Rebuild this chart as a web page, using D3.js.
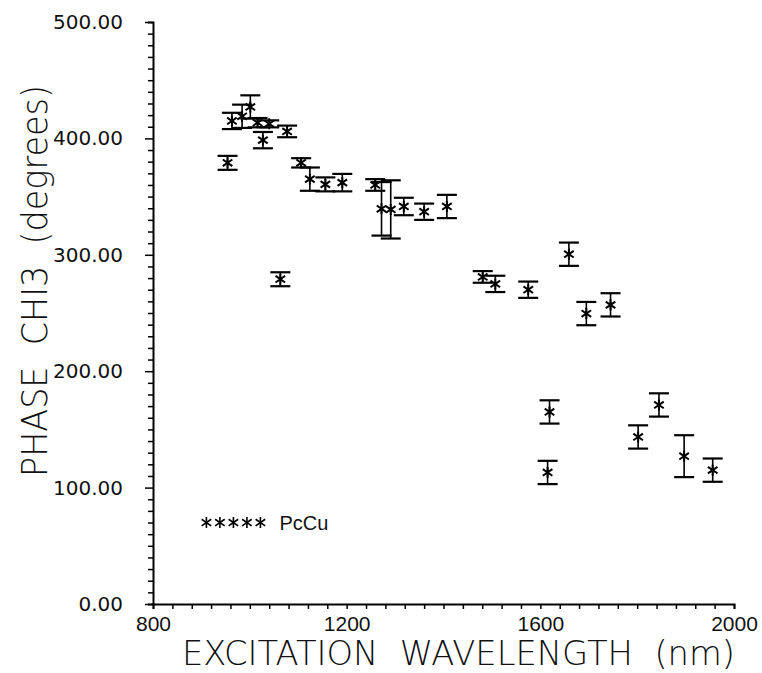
<!DOCTYPE html>
<html>
<head>
<meta charset="utf-8">
<script src="https://cdn.jsdelivr.net/npm/d3@7"></script>
<style>
  body { margin: 0; background: #fff; }
  svg { display: block; }
</style>
</head>
<body>
<div id="graphique"></div>
<script>
// longueur d'onde d'excitation (nm)
const wavelength = [954, 963, 984, 1001, 1016, 1027, 1040, 1077, 1063, 1106,
                    1124, 1156, 1191, 1259, 1272, 1291, 1318, 1360, 1407, 1481,
                    1507, 1575, 1659, 1695, 1745, 1845, 1802, 1897, 1956, 1619, 1615];
// phase chi3 (degres)
const phase = [379, 415, 419, 427, 413.5, 398.5, 412.5, 406, 279, 379,
               365, 360.5, 362, 360, 339.5, 339, 341.5, 337, 341.5, 281,
               275, 270, 300.5, 249.5, 257, 171, 143.5, 127, 115, 165, 113];
// barres d'erreur (+/-)
const erreur = [6, 7, 10, 10, 4, 7, 3, 5, 6, 4,
                10, 6, 7.5, 5, 23, 25, 7.5, 7, 10, 5,
                7, 7, 10, 10, 10, 10, 10, 18, 10, 10, 10];

const xTicks = [800, 1200, 1600, 2000];
const yTicks = [0, 100, 200, 300, 400, 500];
const legendLabel = "PcCu";

function Affichage() {
    const width = 762, height = 673;
    const margin = { top: 22, right: 28, bottom: 69, left: 153 };
    const innerWidth = width - margin.left - margin.right;
    const innerHeight = height - margin.top - margin.bottom;

    const root = d3.select("#graphique").append("svg")
        .attr("width", width)
        .attr("height", height);

    const svg = root.append("g")
        .attr("transform", `translate(${margin.left},${margin.top})`);

    const xScale = d3.scaleLinear().domain([800, 2000]).range([0, innerWidth]);
    const yScale = d3.scaleLinear().domain([0, 500]).range([innerHeight, 0]);

    const data = wavelength.map((w, i) => ({ w: w, p: phase[i], e: erreur[i] }));

    // axe du bas : petits traits tous les 40 nm
    const xAxis = svg.append("g")
        .attr("transform", `translate(0,${innerHeight})`)
        .call(d3.axisBottom(xScale)
            .tickValues(d3.range(800, 2001, 40))
            .tickSize(5)
            .tickFormat(d => xTicks.includes(d) ? d : ""));
    xAxis.select(".domain").attr("stroke-width", 2);
    xAxis.selectAll(".tick line").attr("stroke-width", 1.5);
    xAxis.selectAll("text")
        .attr("y", 12)
        .style("font-family", "'Liberation Sans', Arial, sans-serif")
        .style("font-size", "21px")
        .style("fill", "#111");

    // axe de gauche : traits tous les 10 degres
    const yAxis = svg.append("g")
        .call(d3.axisLeft(yScale)
            .tickValues(d3.range(0, 501, 10))
            .tickSize(5)
            .tickFormat(d => yTicks.includes(d) ? d3.format(".2f")(d) : ""));
    yAxis.select(".domain").attr("stroke-width", 2);
    yAxis.selectAll(".tick line")
        .attr("stroke-width", 1.5)
        .attr("x2", d => yTicks.includes(d) ? -8 : -5);
    yAxis.selectAll("text")
        .attr("x", -30)
        .style("font-family", "'DejaVu Sans', Verdana, sans-serif")
        .style("font-size", "20px")
        .style("fill", "#111");

    // barres d'erreur
    const cap = 10;
    const bars = svg.append("g")
        .attr("stroke", "#000")
        .attr("fill", "none");

    bars.selectAll(".err")
        .data(data)
        .enter()
        .append("line")
        .attr("class", "err")
        .attr("x1", d => xScale(d.w))
        .attr("x2", d => xScale(d.w))
        .attr("y1", d => yScale(d.p + d.e))
        .attr("y2", d => yScale(d.p - d.e))
        .attr("stroke-width", 1.6);

    bars.selectAll(".cap-top")
        .data(data)
        .enter()
        .append("line")
        .attr("class", "cap-top")
        .attr("x1", d => xScale(d.w) - cap)
        .attr("x2", d => xScale(d.w) + cap)
        .attr("y1", d => yScale(d.p + d.e))
        .attr("y2", d => yScale(d.p + d.e))
        .attr("stroke-width", 2.2);

    bars.selectAll(".cap-bottom")
        .data(data)
        .enter()
        .append("line")
        .attr("class", "cap-bottom")
        .attr("x1", d => xScale(d.w) - cap)
        .attr("x2", d => xScale(d.w) + cap)
        .attr("y1", d => yScale(d.p - d.e))
        .attr("y2", d => yScale(d.p - d.e))
        .attr("stroke-width", 2.2);

    // etoile (asterisque)
    const r = 5.5;
    const star = "M0," + (-r) + "L0," + r +
        `M${-r * 0.87},${-r * 0.6}L${r * 0.87},${r * 0.6}` +
        `M${-r * 0.87},${r * 0.6}L${r * 0.87},${-r * 0.6}`;

    svg.selectAll(".point")
        .data(data)
        .enter()
        .append("path")
        .attr("class", "point")
        .attr("transform", d => `translate(${xScale(d.w)},${yScale(d.p)})`)
        .attr("d", star)
        .attr("stroke", "#000")
        .attr("stroke-width", 2)
        .attr("fill", "none");

    // legende
    const legend = svg.append("g")
        .attr("transform", `translate(${xScale(900) + 5},${yScale(70)})`);
    legend.selectAll("path")
        .data(d3.range(5))
        .enter()
        .append("path")
        .attr("transform", i => `translate(${i * 13.5},0)`)
        .attr("d", star)
        .attr("stroke", "#000")
        .attr("stroke-width", 1.6)
        .attr("fill", "none");
    legend.append("text")
        .attr("x", 73)
        .attr("y", 7)
        .style("font-family", "'Liberation Sans', Arial, sans-serif")
        .style("font-size", "20px")
        .style("fill", "#111")
        .text(legendLabel);

    // titres des axes
    root.append("text")
        .attr("x", 182)
        .attr("y", 665)
        .attr("textLength", 553)
        .attr("lengthAdjust", "spacingAndGlyphs")
        .style("font-family", "'DejaVu Sans', sans-serif")
        .style("font-weight", 200)
        .style("font-size", "34px")
        .style("white-space", "pre")
        .style("fill", "#111")
        .text("EXCITATION  WAVELENGTH  (nm)");

    root.append("text")
        .attr("transform", "translate(47,477) rotate(-90)")
        .attr("textLength", 392)
        .attr("lengthAdjust", "spacingAndGlyphs")
        .style("font-family", "'DejaVu Sans', sans-serif")
        .style("font-weight", 200)
        .style("font-size", "35px")
        .style("white-space", "pre")
        .style("fill", "#111")
        .text("PHASE  CHI3  (degrees)");
}

Affichage();
</script>
</body>
</html>
